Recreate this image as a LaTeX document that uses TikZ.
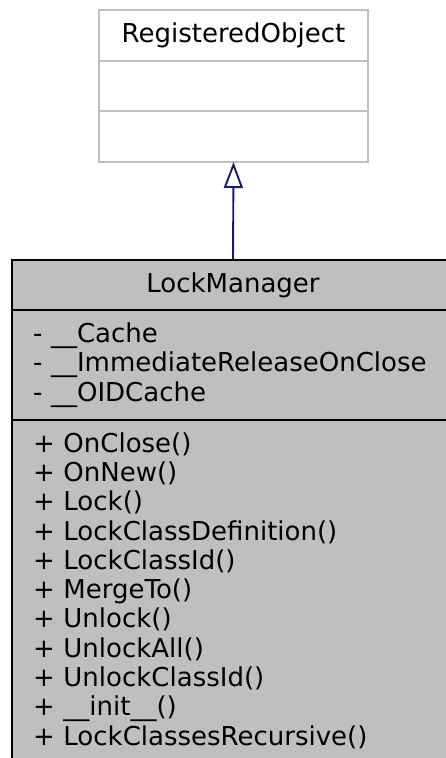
\documentclass[tikz,border=0pt]{standalone}
\usepackage{fontspec}
\setmainfont{DejaVu Sans}
\usetikzlibrary{arrows.meta,positioning}
\definecolor{boxgray}{HTML}{BFBFBF}
\definecolor{edgenavy}{HTML}{191970}
\newcommand{\umlfont}{\fontsize{26pt}{29.3pt}\selectfont}
\begin{document}
\begin{tikzpicture}[
  x=1pt, y=-1pt, line width=1.9pt,
  sect/.style={draw, rectangle, inner xsep=21pt, inner ysep=0pt, outer sep=0pt, font=\umlfont},
  base/.style={sect, draw=boxgray, fill=white, minimum width=269pt},
  cls/.style={sect, draw=black, fill=boxgray, minimum width=442pt},
  members/.style={text width=400pt, align=left},
  inherit/.style={draw=edgenavy, -{Triangle[open, length=26pt, width=19pt, fill=white]}}]
\useasboundingbox (0,0) rectangle (445,758);
% base class
\node[base, minimum height=51pt, anchor=north] (roname) at (233.5,10) {RegisteredObject};
\node[base, minimum height=50pt, below=0pt of roname] (roattr) {};
\node[base, minimum height=51pt, below=0pt of roattr] (roops) {};
% derived class
\node[cls, minimum height=50pt, anchor=north] (lmname) at (233,260) {LockManager};
\node[cls, members, minimum height=110pt, below=0pt of lmname] (lmattr)
  {- \_\_Cache\\- \_\_ImmediateReleaseOnClose\\- \_\_OIDCache};
\node[cls, members, inner ysep=12.4pt, below=0pt of lmattr] (lmops)
  {+ OnClose()\\+ OnNew()\\+ Lock()\\+ LockClassDefinition()\\+ LockClassId()\\+ MergeTo()\\+ Unlock()\\+ UnlockAll()\\+ UnlockClassId()\\+ \_\_init\_\_()\\+ LockClassesRecursive()};
% inheritance
\draw[inherit] (lmname.north) -- (roops.south);
\end{tikzpicture}
\end{document}
